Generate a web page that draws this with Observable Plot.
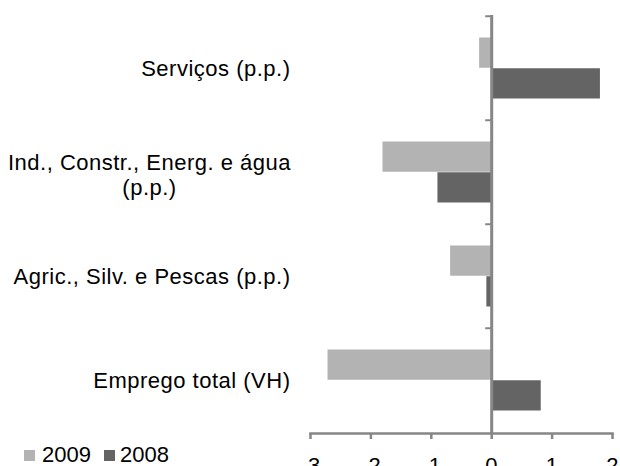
<!DOCTYPE html>
<html>
<head>
<meta charset="utf-8">
<script src="https://cdn.jsdelivr.net/npm/d3@7"></script>
<script src="https://cdn.jsdelivr.net/npm/@observablehq/plot@0.6"></script>
<style>
  body { margin: 0; background: #fff; }
  #wrap { position: relative; width: 620px; height: 466px; overflow: hidden; font-family: "Liberation Sans", Arial, sans-serif; }
  .sw { position: absolute; width: 11px; height: 11px; top: 450px; }
  .lt { position: absolute; top: 444px; font-size: 22px; line-height: 22px; color: #000; }
</style>
</head>
<body>
<div id="wrap"></div>
<script>
const categories = [
  "Serviços (p.p.)",
  "Ind., Constr., Energ. e água (p.p.)",
  "Agric., Silv. e Pescas (p.p.)",
  "Emprego total (VH)"
];
const categoryLabels = [
  "Serviços (p.p.)",
  "Ind., Constr., Energ. e água\n(p.p.)",
  "Agric., Silv. e Pescas (p.p.)",
  "Emprego total (VH)"
];
const values2009 = [-0.2, -1.8, -0.68, -2.71];
const values2008 = [1.8, -0.89, -0.08, 0.82];
const seriesNames = ["2009", "2008"];
const seriesColors = ["#b3b3b3", "#646464"];
const xTicks = [-3, -2, -1, 0, 1, 2];

const rows2009 = categories.map((c, i) => ({category: c, year: seriesNames[0], value: values2009[i]}));
const rows2008 = categories.map((c, i) => ({category: c, year: seriesNames[1], value: values2008[i]}));
const labelOf = new Map(categories.map((c, i) => [c, categoryLabels[i]]));

const W = 620, H = 466, mT = 15, mB = 33;
const bandwidth = (H - mT - mB) / categories.length;
const axisGray = "#868686";
const font = '"Liberation Sans", Arial, sans-serif';

const chart = Plot.plot({
  width: W,
  height: H,
  marginLeft: 310,
  marginRight: 8,
  marginTop: mT,
  marginBottom: mB,
  style: {fontFamily: font, fontSize: "22px", color: "#000", background: "#fff", overflow: "visible", letterSpacing: "0.5px"},
  x: {domain: [-3, 2], label: null},
  y: {domain: categories, padding: 0, label: null},
  marks: [
    Plot.barX(rows2009, {x: "value", y: "category", fill: seriesColors[0], insetTop: 21.5, insetBottom: 52.25}),
    Plot.barX(rows2008, {x: "value", y: "category", fill: seriesColors[1], insetTop: 52.25, insetBottom: 21.5}),
    Plot.ruleX([0], {stroke: axisGray, strokeWidth: 3}),
    Plot.ruleY(categories, {y: d => d, x1: -0.1, x2: 0, dy: -bandwidth / 2, stroke: axisGray, strokeWidth: 2}),
    Plot.frame({anchor: "bottom", stroke: axisGray, strokeWidth: 2.5}),
    Plot.axisX({ticks: xTicks, tickSize: 6, stroke: axisGray, strokeWidth: 2.5, fill: "none", label: null}),
    Plot.axisX({ticks: xTicks, tickSize: 0, tickPadding: 24, tickFormat: d => String(d), fill: "#000", label: null}),
    Plot.axisY({ticks: categories.filter((c, i) => !categoryLabels[i].includes("\n")), tickSize: 0, tickPadding: 20, fill: "#000", label: null}),
    Plot.axisY({ticks: categories.filter((c, i) => categoryLabels[i].includes("\n")), tickSize: 0, tickPadding: 20,
      textAnchor: "middle", dx: -141, dy: 2, lineHeight: 1.15, tickFormat: d => labelOf.get(d), fill: "#000", label: null})
  ]
});

const wrap = document.getElementById("wrap");
wrap.appendChild(chart);

const legendPos = [{sw: 24, tx: 42}, {sw: 104, tx: 120}];
seriesNames.forEach((name, i) => {
  const s = document.createElement("div");
  s.className = "sw";
  s.style.left = legendPos[i].sw + "px";
  s.style.background = seriesColors[i];
  wrap.appendChild(s);
  const t = document.createElement("div");
  t.className = "lt";
  t.style.left = legendPos[i].tx + "px";
  t.textContent = name;
  wrap.appendChild(t);
});
</script>
</body>
</html>
